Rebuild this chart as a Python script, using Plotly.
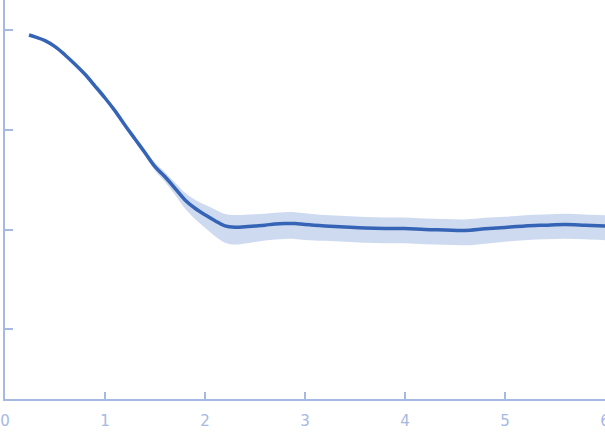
import plotly.graph_objects as go

# scattering curve (s in 1/nm, intensity in arbitrary units)
s = [0.24, 0.3, 0.4, 0.5, 0.6, 0.7, 0.8, 0.9, 1.0, 1.1, 1.2, 1.3, 1.4, 1.5,
     1.6, 1.7, 1.8, 1.9, 2.0, 2.1, 2.2, 2.3, 2.4, 2.5, 2.6, 2.7, 2.8, 2.9,
     3.0, 3.2, 3.4, 3.6, 3.8, 4.0, 4.2, 4.4, 4.6, 4.8, 5.0, 5.2, 5.4, 5.6,
     5.8, 6.0]
intensity = [0.901, 0.861, 0.790, 0.688, 0.568, 0.458, 0.363, 0.277, 0.210,
             0.156, 0.112, 0.0814, 0.0593, 0.0430, 0.0340, 0.0260, 0.0199,
             0.0164, 0.0141, 0.0123, 0.0109, 0.01057, 0.0107, 0.0109, 0.0111,
             0.0114, 0.01153, 0.01153, 0.01127, 0.0109, 0.01064, 0.0104,
             0.01028, 0.01028, 0.01005, 0.00994, 0.00982, 0.0102, 0.01052,
             0.0109, 0.0111, 0.01127, 0.0111, 0.0109]
# relative error (fraction of intensity)
rel_err = [0.02, 0.02, 0.02, 0.02, 0.03, 0.03, 0.03, 0.04, 0.04, 0.05, 0.05,
           0.06, 0.07, 0.09, 0.11, 0.14, 0.18, 0.22, 0.26, 0.3, 0.32, 0.33,
           0.32, 0.31, 0.3, 0.3, 0.3, 0.3, 0.3, 0.29, 0.29, 0.29, 0.29,
           0.29, 0.29, 0.29, 0.29, 0.29, 0.28, 0.28, 0.28, 0.28, 0.28, 0.28]

upper = [i * (1 + e) for i, e in zip(intensity, rel_err)]
lower = [i * (1 - e) for i, e in zip(intensity, rel_err)]

axis_col = "#a6b9e2"

fig = go.Figure()
fig.add_trace(go.Scatter(x=s, y=upper, mode="lines", line=dict(width=0, shape="spline"),
                         showlegend=False, hoverinfo="skip"))
fig.add_trace(go.Scatter(x=s, y=lower, mode="lines", line=dict(width=0, shape="spline"),
                         fill="tonexty", fillcolor="rgba(190,206,234,0.75)",
                         showlegend=False, hoverinfo="skip"))
fig.add_trace(go.Scatter(x=s, y=intensity, mode="lines",
                         line=dict(color="#3564b6", width=3.5, shape="spline"),
                         showlegend=False))

fig.update_layout(
    width=605, height=437,
    margin=dict(l=5, r=0, t=0, b=38, autoexpand=False),
    paper_bgcolor="white", plot_bgcolor="white",
    font=dict(family="DejaVu Sans", size=15, color=axis_col),
)
fig.update_xaxes(range=[0, 6], tickvals=[0, 1, 2, 3, 4, 5, 6],
                 showgrid=False, zeroline=False, showline=True,
                 linecolor=axis_col, linewidth=1.5,
                 ticks="inside", ticklen=7, tickcolor=axis_col, tickwidth=1.5,
                 ticklabeloverflow="allow", ticklabelstandoff=7, automargin=False)
fig.update_yaxes(type="log", range=[-3.70, 0.306],
                 tickvals=[0.001, 0.01, 0.1, 1], showticklabels=False,
                 showgrid=False, zeroline=False, showline=True,
                 linecolor=axis_col, linewidth=1.5,
                 ticks="inside", ticklen=8, tickcolor=axis_col, tickwidth=1.5)

# page body has a default 8px margin, drop it so the plot sits at the window edge
fig.write_html("out.html", config={"displayModeBar": False},
               post_script="document.body.style.margin='0';document.body.style.overflow='hidden';")
